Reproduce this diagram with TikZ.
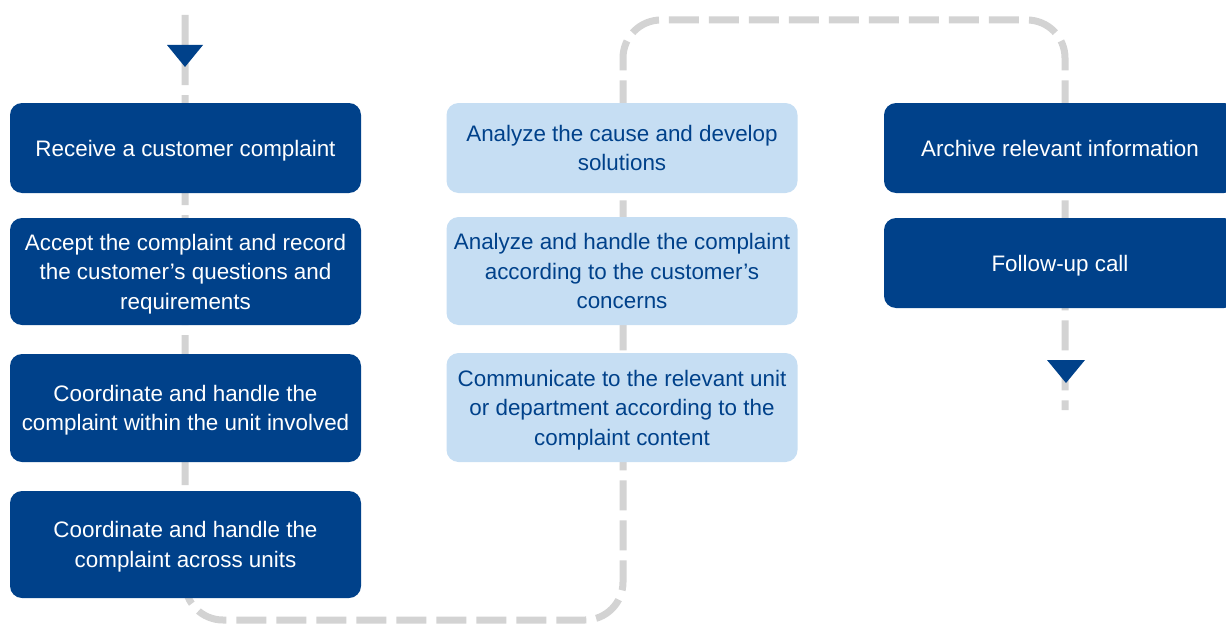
\documentclass[tikz,border=0pt]{standalone}
\usepackage{fontspec}
\setmainfont{Liberation Sans}
\usetikzlibrary{calc}
\definecolor{dblue}{RGB}{0,65,138}
\definecolor{lblue}{RGB}{198,222,243}
\definecolor{lgray}{RGB}{211,211,211}
\begin{document}
\begin{tikzpicture}[x=1pt,y=1pt,
  box/.style={rectangle, rounded corners=12pt, minimum width=351pt, align=center, inner sep=0pt,
    text depth=0pt, font=\fontsize{22.4}{29.5}\selectfont},
  darkbox/.style={box, fill=dblue, text=white},
  lightbox/.style={box, fill=lblue, text=dblue},
  flow/.style={draw=lgray, line width=7pt, rounded corners=38pt, dash pattern=on 30pt off 10pt},
  tri/.style={fill=dblue}]
\useasboundingbox (0,0) rectangle (1226,-626);
% flow line
\coordinate (s) at (185,-15);
\coordinate (c1) at (185,-620);
\coordinate (c2) at (623,-620);
\coordinate (c3) at (623,-20);
\coordinate (c4) at (1065,-20);
\coordinate (e) at (1065,-410);
\draw[flow] (s) -- (c1) -- (c2) -- (c3) -- (c4) -- (e);
% left column
\node[darkbox, minimum height=90pt] (l1) at (185.5,-148) {Receive a customer complaint};
\node[darkbox, minimum height=107pt] (l2) at (185.5,-271.5) {Accept the complaint and record\\the customer’s questions and\\requirements};
\node[darkbox, minimum height=108pt] (l3) at (185.5,-408) {Coordinate and handle the\\complaint within the unit involved};
\node[darkbox, minimum height=107pt] (l4) at (185.5,-544.5) {Coordinate and handle the\\complaint across units};
% middle column
\node[lightbox, minimum height=90pt] (m1) at (622,-148) {Analyze the cause and develop\\solutions};
\node[lightbox, minimum height=108pt] (m2) at (622,-271) {Analyze and handle the complaint\\according to the customer’s\\concerns};
\node[lightbox, minimum height=109pt] (m3) at (622,-407.5) {Communicate to the relevant unit\\or department according to the\\complaint content};
% right column
\node[darkbox, minimum height=90pt, minimum width=352pt] (r1) at (1060,-148) {Archive relevant information};
\node[darkbox, minimum height=90pt, minimum width=352pt] (r2) at (1060,-263) {Follow-up call};
% arrowheads
\coordinate (a1) at (185,-45);
\fill[tri] ($(a1)+(-18,0)$) -- ($(a1)+(18,0)$) -- ($(a1)+(0,-22)$) -- cycle;
\coordinate (a2) at (1066,-360);
\fill[tri] ($(a2)+(-19,0)$) -- ($(a2)+(19,0)$) -- ($(a2)+(0,-23)$) -- cycle;
\end{tikzpicture}
\end{document}
